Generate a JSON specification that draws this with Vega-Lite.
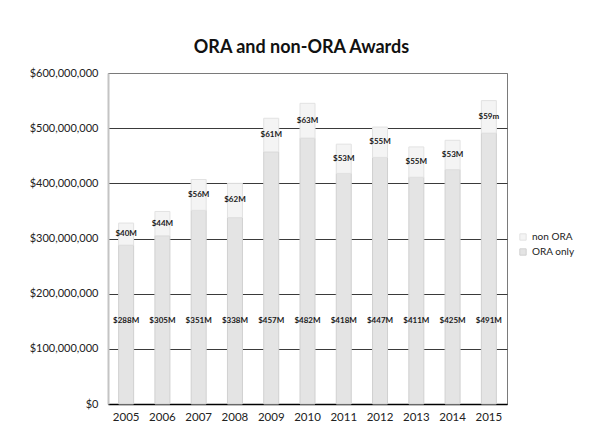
{
  "$schema": "https://vega.github.io/schema/vega-lite/v6.json",
  "width": 399,
  "height": 331,
  "autosize": {"type": "none"},
  "padding": {"left": 108, "top": 73, "right": 87, "bottom": 41},
  "background": "white",
  "config": {
    "font": "Lato",
    "view": {"stroke": "#7a7a7a", "strokeWidth": 1}
  },
  "title": {
    "text": "ORA and non-ORA Awards",
    "font": "Lato",
    "fontSize": 18,
    "fontWeight": "bold",
    "color": "#111",
    "anchor": "middle",
    "frame": "group",
    "offset": 10,
    "dx": -6
  },
  "data": {
    "values": [
      {"year": "2005", "part": "ORA only", "value": 288000000, "label": "$288M"},
      {"year": "2005", "part": "non ORA", "value": 40000000, "label": "$40M"},
      {"year": "2006", "part": "ORA only", "value": 305000000, "label": "$305M"},
      {"year": "2006", "part": "non ORA", "value": 44000000, "label": "$44M"},
      {"year": "2007", "part": "ORA only", "value": 351000000, "label": "$351M"},
      {"year": "2007", "part": "non ORA", "value": 56000000, "label": "$56M"},
      {"year": "2008", "part": "ORA only", "value": 338000000, "label": "$338M"},
      {"year": "2008", "part": "non ORA", "value": 62000000, "label": "$62M"},
      {"year": "2009", "part": "ORA only", "value": 457000000, "label": "$457M"},
      {"year": "2009", "part": "non ORA", "value": 61000000, "label": "$61M"},
      {"year": "2010", "part": "ORA only", "value": 482000000, "label": "$482M"},
      {"year": "2010", "part": "non ORA", "value": 63000000, "label": "$63M"},
      {"year": "2011", "part": "ORA only", "value": 418000000, "label": "$418M"},
      {"year": "2011", "part": "non ORA", "value": 53000000, "label": "$53M"},
      {"year": "2012", "part": "ORA only", "value": 447000000, "label": "$447M"},
      {"year": "2012", "part": "non ORA", "value": 55000000, "label": "$55M"},
      {"year": "2013", "part": "ORA only", "value": 411000000, "label": "$411M"},
      {"year": "2013", "part": "non ORA", "value": 55000000, "label": "$55M"},
      {"year": "2014", "part": "ORA only", "value": 425000000, "label": "$425M"},
      {"year": "2014", "part": "non ORA", "value": 53000000, "label": "$53M"},
      {"year": "2015", "part": "ORA only", "value": 491000000, "label": "$491M"},
      {"year": "2015", "part": "non ORA", "value": 59000000, "label": "$59m"}
    ]
  },
  "encoding": {
    "x": {
      "field": "year",
      "type": "nominal",
      "title": null,
      "axis": {
        "labelAngle": 0,
        "labelFontSize": 11.5,
        "labelColor": "#222",
        "labelPadding": 7,
        "ticks": false,
        "domainColor": "#000",
        "domainWidth": 1.5,
        "grid": false
      }
    }
  },
  "layer": [
    {
      "mark": {"type": "bar", "width": 15, "strokeWidth": 1},
      "encoding": {
        "y": {
          "field": "value",
          "type": "quantitative",
          "stack": "zero",
          "scale": {"domain": [0, 600000000]},
          "title": null,
          "axis": {
            "values": [0, 100000000, 200000000, 300000000, 400000000, 500000000, 600000000],
            "format": "$,d",
            "labelFontSize": 11,
            "labelColor": "#222",
            "labelPadding": 10,
            "ticks": false,
            "domainColor": "#c4c4c4",
            "domainWidth": 2,
            "gridColor": {"condition": {"test": "datum.value >= 600000000", "value": "#7a7a7a"}, "value": "#3a3a3a"},
            "gridWidth": 1
          }
        },
        "order": {"field": "part", "sort": "ascending"},
        "color": {
          "field": "part",
          "type": "nominal",
          "title": null,
          "scale": {"domain": ["non ORA", "ORA only"], "range": ["#f4f4f4", "#e4e4e4"]},
          "legend": {
            "orient": "none",
            "legendX": 410,
            "legendY": 159,
            "padding": 0,
            "symbolType": "square",
            "symbolSize": 40,
            "symbolStrokeColor": "#d8d8d8",
            "symbolStrokeWidth": 1,
            "labelFontSize": 10,
            "labelColor": "#222",
            "labelOffset": 4,
            "rowPadding": 3
          }
        },
        "stroke": {
          "field": "part",
          "type": "nominal",
          "scale": {"domain": ["non ORA", "ORA only"], "range": ["#e2e2e2", "#d0d0d0"]},
          "legend": null
        }
      }
    },
    {
      "transform": [{"filter": "datum.part == 'ORA only'"}],
      "mark": {"type": "text", "fontSize": 8, "fontWeight": "bold", "color": "#1a1a1a", "baseline": "middle"},
      "encoding": {
        "y": {"datum": 150000000, "type": "quantitative"},
        "text": {"field": "label"}
      }
    },
    {
      "transform": [
        {"stack": "value", "groupby": ["year"], "sort": [{"field": "part", "order": "ascending"}], "as": ["v0", "v1"]},
        {"filter": "datum.part == 'non ORA'"},
        {"fold": ["v0", "v1"], "as": ["edge", "pos"]},
        {"aggregate": [{"op": "mean", "field": "pos", "as": "mid"}], "groupby": ["year", "label"]}
      ],
      "mark": {"type": "text", "fontSize": 8, "fontWeight": "bold", "color": "#1a1a1a", "baseline": "middle"},
      "encoding": {
        "y": {"field": "mid", "type": "quantitative"},
        "text": {"field": "label"}
      }
    }
  ]
}
